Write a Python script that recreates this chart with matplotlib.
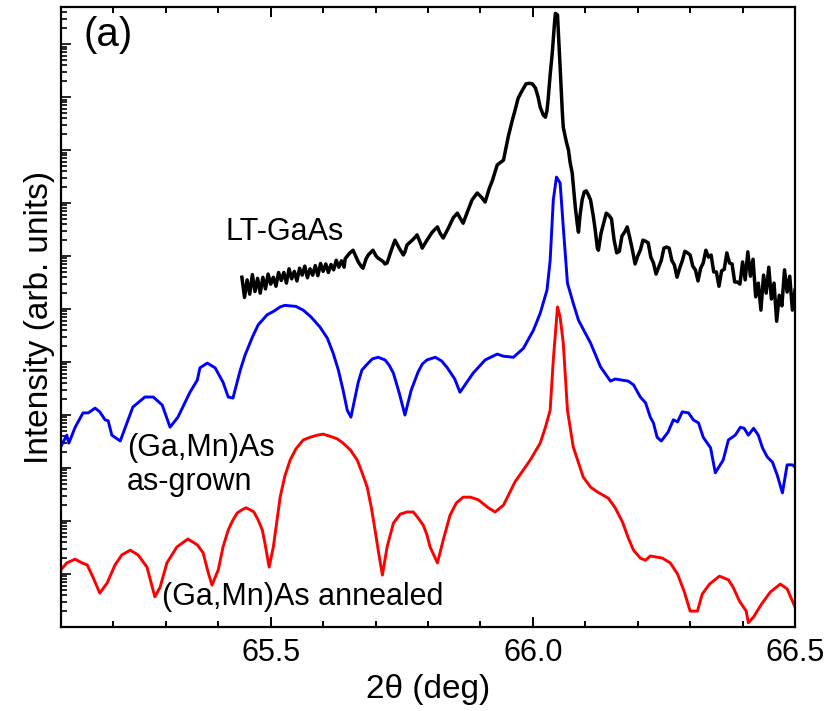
import numpy as np
import matplotlib
matplotlib.use("Agg")
import matplotlib.pyplot as plt
from matplotlib.ticker import MultipleLocator, LogLocator, NullFormatter

plt.rcParams['font.family'] = ['Liberation Sans', 'DejaVu Sans']

# ---------------- data (2theta in deg, log10 of intensity in arb. units) ----------------
lt_2theta = [
    65.445, 65.450, 65.455, 65.460, 65.465, 65.470, 65.475, 65.480, 65.485, 65.490,
    65.495, 65.500, 65.505, 65.510, 65.515, 65.520, 65.525, 65.530, 65.535, 65.540,
    65.545, 65.550, 65.555, 65.560, 65.565, 65.570, 65.575, 65.580, 65.585, 65.590,
    65.595, 65.600, 65.605, 65.610, 65.615, 65.620, 65.625, 65.630, 65.635, 65.640,
    65.642, 65.650, 65.657, 65.663, 65.667, 65.673, 65.676, 65.682, 65.686, 65.692,
    65.695, 65.701, 65.705, 65.711, 65.715, 65.718, 65.722, 65.730, 65.737, 65.745,
    65.753, 65.756, 65.760, 65.770, 65.776, 65.779, 65.785, 65.789, 65.795, 65.798,
    65.808, 65.818, 65.823, 65.829, 65.839, 65.848, 65.856, 65.861, 65.867, 65.875,
    65.884, 65.894, 65.902, 65.909, 65.917, 65.923, 65.932, 65.944,
    65.953, 65.961, 65.966, 65.972, 65.980, 65.987, 65.993, 65.999, 66.005, 66.010,
    66.014, 66.020, 66.024, 66.027, 66.029, 66.033, 66.037, 66.041, 66.043, 66.047,
    66.048, 66.052, 66.056, 66.058, 66.064, 66.068, 66.071, 66.075, 66.079, 66.081,
    66.085, 66.087, 66.090, 66.094, 66.098, 66.102, 66.106, 66.110, 66.115, 66.119,
    66.123,
    66.125, 66.130, 66.135, 66.140, 66.145, 66.150, 66.155, 66.160, 66.165, 66.170,
    66.175, 66.180, 66.185, 66.190, 66.195, 66.200, 66.205, 66.210, 66.215, 66.220,
    66.225, 66.230, 66.235, 66.240, 66.245, 66.250, 66.255, 66.260, 66.265, 66.270,
    66.275, 66.280, 66.285, 66.290, 66.295, 66.300, 66.305, 66.310, 66.315, 66.320,
    66.325, 66.330, 66.335, 66.340, 66.345, 66.350, 66.355, 66.360, 66.365, 66.370,
    66.375, 66.380, 66.385, 66.390, 66.395, 66.400, 66.405, 66.410, 66.415, 66.420,
    66.425, 66.430, 66.435, 66.440, 66.445, 66.450, 66.455, 66.460, 66.465, 66.470,
    66.475, 66.480, 66.485, 66.490, 66.495, 66.500,
]
lt_log10I = [
    6.60, 6.22, 6.55, 6.28, 6.65, 6.33, 6.58, 6.30, 6.60, 6.38,
    6.66, 6.47, 6.60, 6.43, 6.69, 6.54, 6.69, 6.49, 6.76, 6.57,
    6.71, 6.53, 6.77, 6.64, 6.81, 6.59, 6.76, 6.64, 6.82, 6.63,
    6.86, 6.71, 6.85, 6.69, 6.84, 6.74, 6.92, 6.79, 6.91, 6.79,
    6.95, 7.05, 7.11, 6.98, 6.89, 6.80, 6.77, 6.95, 7.02, 7.08,
    7.11, 7.00, 6.96, 6.92, 6.89, 6.85, 6.87, 7.11, 7.30, 7.15,
    7.02, 7.08, 7.21, 7.30, 7.36, 7.40, 7.26, 7.15, 7.25, 7.30,
    7.45, 7.55, 7.43, 7.34, 7.53, 7.72, 7.81, 7.72, 7.62, 7.83,
    8.06, 8.19, 8.11, 8.02, 8.28, 8.43, 8.72, 8.81,
    9.25, 9.57, 9.75, 9.98, 10.13, 10.25, 10.26, 10.25, 10.17, 10.00,
    9.81, 9.66, 9.62, 9.75, 9.94, 10.42, 10.83, 11.36, 11.58, 11.55,
    11.36, 10.57, 9.75, 9.43, 9.15, 9.00, 8.77, 8.57, 8.15, 7.92,
    7.58, 7.45, 7.77, 8.06, 8.21, 8.23, 8.15, 8.06, 7.77, 7.49,
    7.15,
    7.11, 7.43, 7.62, 7.81, 7.77, 7.70, 7.30, 7.06, 7.09, 7.38,
    7.45, 7.55, 7.34, 7.11, 6.85, 7.00, 7.11, 7.30, 7.28, 7.25,
    6.98, 6.87, 6.66, 6.79, 6.92, 7.15, 7.17, 7.15, 6.92, 6.83,
    6.60, 6.77, 6.91, 7.09, 7.06, 7.02, 6.81, 6.74, 6.53, 6.77,
    6.87, 7.11, 6.98, 7.02, 6.70, 6.70, 6.43, 6.72, 6.75, 7.06,
    6.87, 6.85, 6.51, 6.51, 6.47, 6.89, 6.55, 7.08, 6.62, 6.94,
    6.23, 6.49, 5.98, 6.64, 6.30, 6.79, 6.19, 6.49, 5.77, 6.26,
    6.06, 6.74, 6.32, 6.62, 5.98, 6.36,
]

asgrown_2theta = [
    65.101, 65.111, 65.115, 65.127, 65.142, 65.152, 65.165, 65.174, 65.184, 65.190,
    65.197, 65.213, 65.237, 65.260, 65.276, 65.293, 65.308, 65.323, 65.346, 65.360,
    65.365, 65.379, 65.394, 65.409, 65.419, 65.428, 65.442, 65.451, 65.465, 65.476,
    65.493, 65.506, 65.518, 65.527, 65.537, 65.548, 65.562, 65.577, 65.594, 65.608,
    65.619, 65.629, 65.638, 65.646, 65.653, 65.667, 65.674, 65.684, 65.694, 65.705,
    65.718, 65.726, 65.734, 65.745, 65.756, 65.768, 65.781, 65.789, 65.798, 65.814,
    65.826, 65.837, 65.851, 65.861, 65.886, 65.909,
    65.932, 65.944, 65.963, 65.982, 66.001, 66.014, 66.027, 66.033, 66.039, 66.045,
    66.052, 66.058, 66.066, 66.077, 66.087, 66.110, 66.129, 66.148, 66.157, 66.182,
    66.192, 66.205, 66.215, 66.224, 66.230, 66.237, 66.245, 66.258, 66.268, 66.276,
    66.285, 66.297, 66.306, 66.316, 66.325, 66.339, 66.348, 66.363, 66.373, 66.386,
    66.396, 66.403, 66.411, 66.421, 66.430, 66.438, 66.447, 66.457, 66.466, 66.476,
    66.485, 66.495, 66.500,
]
asgrown_log10I = [
    3.43, 3.62, 3.47, 3.77, 4.04, 4.04, 4.13, 4.06, 3.91, 3.89,
    3.62, 3.51, 4.15, 4.34, 4.34, 4.19, 3.77, 3.96, 4.43, 4.66,
    4.89, 4.98, 4.89, 4.62, 4.34, 4.32, 4.85, 5.13, 5.47, 5.70,
    5.89, 5.96, 6.04, 6.07, 6.06, 6.05, 5.98, 5.85, 5.66, 5.45,
    5.17, 4.85, 4.47, 4.09, 3.96, 4.62, 4.85, 4.96, 5.06, 5.09,
    5.04, 4.94, 4.79, 4.42, 4.00, 4.47, 4.81, 4.96, 5.04, 5.09,
    5.02, 4.89, 4.68, 4.43, 4.79, 5.04,
    5.15, 5.11, 5.09, 5.26, 5.60, 5.92, 6.36, 6.92, 8.06, 8.49,
    8.38, 7.55, 6.49, 6.11, 5.79, 5.36, 4.91, 4.64, 4.68, 4.64,
    4.57, 4.34, 4.23, 3.96, 3.85, 3.58, 3.51, 3.68, 3.91, 3.87,
    4.06, 4.04, 3.91, 3.85, 3.58, 3.38, 2.91, 3.15, 3.53, 3.62,
    3.77, 3.75, 3.62, 3.75, 3.62, 3.38, 3.21, 3.11, 2.87, 2.53,
    3.06, 3.06, 3.02,
]

annealed_2theta = [
    65.100, 65.111, 65.127, 65.140, 65.150, 65.161, 65.174, 65.188, 65.203, 65.216,
    65.232, 65.247, 65.264, 65.279, 65.289, 65.302, 65.321, 65.342, 65.360, 65.371,
    65.381, 65.388, 65.400, 65.409, 65.419, 65.428, 65.436, 65.445, 65.453, 65.461,
    65.468, 65.476, 65.484, 65.489, 65.497,
    65.505, 65.518, 65.527, 65.537, 65.548, 65.562, 65.575, 65.589, 65.600, 65.613,
    65.627, 65.638, 65.652, 65.665, 65.674, 65.684, 65.692, 65.699, 65.705,
    65.713, 65.722, 65.734, 65.747, 65.760, 65.772, 65.781, 65.791, 65.798, 65.804,
    65.818, 65.829, 65.842, 65.854, 65.867, 65.881, 65.896, 65.915, 65.928, 65.944,
    65.966, 65.995, 66.014, 66.024, 66.033,
    66.039, 66.047, 66.052, 66.058, 66.066, 66.077, 66.096, 66.110, 66.123, 66.144,
    66.157, 66.171, 66.182, 66.192, 66.205, 66.215, 66.224, 66.247, 66.262, 66.276,
    66.289, 66.300, 66.314, 66.323, 66.337, 66.356, 66.373, 66.382, 66.394, 66.407,
    66.411, 66.421, 66.436, 66.453, 66.472, 66.485, 66.499,
]
annealed_log10I = [
    1.08, 1.21, 1.28, 1.21, 1.17, 0.94, 0.64, 0.83, 1.17, 1.36,
    1.45, 1.36, 1.13, 0.57, 0.75, 1.21, 1.51, 1.66, 1.55, 1.40,
    1.02, 0.79, 1.08, 1.51, 1.83, 2.02, 2.15, 2.21, 2.25, 2.21,
    2.17, 2.02, 1.83, 1.58, 1.13,
    1.51, 2.45, 2.85, 3.15, 3.36, 3.53, 3.58, 3.62, 3.64, 3.60,
    3.55, 3.47, 3.34, 3.15, 2.92, 2.64, 2.25, 1.83, 1.45,
    0.98, 1.51, 1.96, 2.13, 2.17, 2.17, 2.06, 1.92, 1.74, 1.51,
    1.21, 1.64, 2.11, 2.34, 2.45, 2.45, 2.40, 2.25, 2.17, 2.30,
    2.74, 3.15, 3.47, 3.77, 4.09,
    5.04, 6.04, 5.85, 5.36, 4.09, 3.40, 2.83, 2.64, 2.55, 2.43,
    2.25, 1.98, 1.68, 1.45, 1.30, 1.26, 1.34, 1.30, 1.21, 1.00,
    0.66, 0.30, 0.30, 0.62, 0.81, 0.96, 0.89, 0.75, 0.49, 0.30,
    0.08, 0.19, 0.43, 0.66, 0.81, 0.72, 0.40,
]

x_major_ticks = [65.5, 66.0, 66.5]
x_tick_labels = ["65.5", "66.0", "66.5"]

# ---------------- figure ----------------
fig = plt.figure(figsize=(8.28, 7.11), dpi=100)
ax = fig.add_axes([61 / 828, 84 / 711, 734 / 828, 620 / 711])

ax.plot(lt_2theta, np.power(10.0, lt_log10I), color='black', lw=2.5,
        solid_joinstyle='round')
ax.plot(asgrown_2theta, np.power(10.0, asgrown_log10I), color='#0000ff', lw=2.1,
        solid_joinstyle='round')
ax.plot(annealed_2theta, np.power(10.0, annealed_log10I), color='#ff0000', lw=2.1,
        solid_joinstyle='round')

ax.set_yscale('log')
ax.set_xlim(65.1, 66.5)
ax.set_ylim(1.0, 10 ** 11.7)

ax.set_xticks(x_major_ticks)
ax.set_xticklabels(x_tick_labels)
ax.xaxis.set_minor_locator(MultipleLocator(0.1))
ax.yaxis.set_major_locator(LogLocator(base=10, numticks=30))
ax.yaxis.set_minor_locator(LogLocator(base=10, subs=np.arange(2, 10), numticks=30))
ax.yaxis.set_major_formatter(NullFormatter())
ax.yaxis.set_minor_formatter(NullFormatter())

ax.tick_params(axis='x', which='both', direction='in', top=True, bottom=True,
               labelsize=22, pad=8, width=1.4)
ax.tick_params(axis='x', which='major', length=7.5)
ax.tick_params(axis='x', which='minor', length=4)
ax.tick_params(axis='y', which='both', direction='in', left=True, right=False,
               labelleft=False, width=1.2)
ax.tick_params(axis='y', which='major', length=7.5)
ax.tick_params(axis='y', which='minor', length=4)

for sp in ax.spines.values():
    sp.set_linewidth(1.6)

ax.set_xlabel("2θ (deg)", fontsize=24, labelpad=4)
ax.set_ylabel("Intensity (arb. units)", fontsize=24, labelpad=4)

ax.text(0.030, 0.985, "(a)", transform=ax.transAxes, fontsize=29, ha='left', va='top')
ax.text(65.413, 10 ** 7.30, "LT-GaAs", fontsize=22, ha='left', va='baseline')
ax.text(65.226, 10 ** 3.23, "(Ga,Mn)As", fontsize=22, ha='left', va='baseline')
ax.text(65.226, 10 ** 2.58, "as-grown", fontsize=22, ha='left', va='baseline')
ax.text(65.293, 10 ** 0.42, "(Ga,Mn)As annealed", fontsize=22, ha='left', va='baseline')

fig.savefig("out.png", dpi=100)
